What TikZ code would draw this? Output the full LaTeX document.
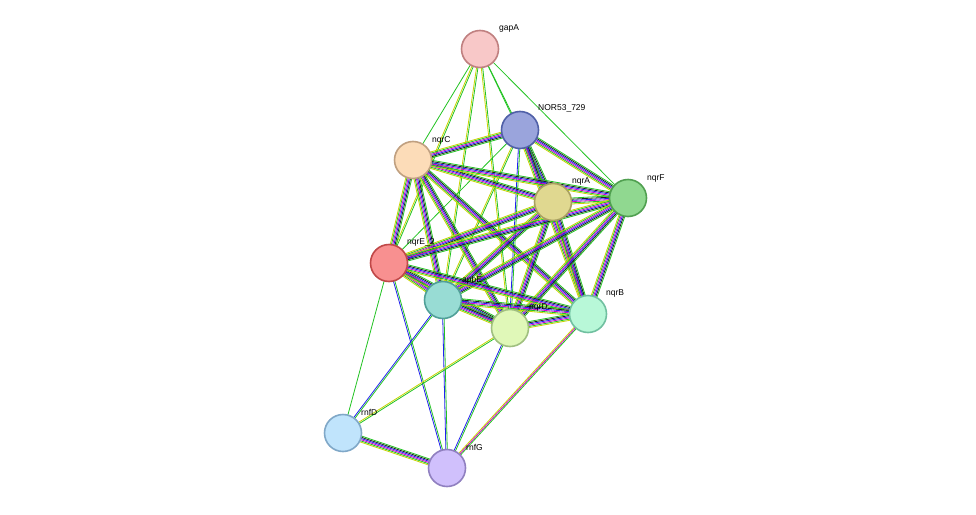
\documentclass[tikz,border=0pt]{standalone}
\usepackage{fontspec}
\setmainfont{Liberation Sans}
\usetikzlibrary{calc}
\definecolor{ty}{HTML}{C8D400}
\definecolor{tg}{HTML}{22C322}
\definecolor{tm}{HTML}{D000D0}
\definecolor{tb}{HTML}{2020F0}
\definecolor{tk}{HTML}{202020}
\definecolor{tc}{HTML}{30B0C0}
\def\FULL{ty/-3,tg/-1.8,tm/-0.6,tb/0.6,tk/1.8,tg/3}
\def\GR{tg/0}
\def\GY{ty/-0.7,tg/0.7}
\def\BL{tb/-0.7,tg/0.7}
\def\MY{ty/-1.2,tm/0,tg/1.2}
\newcommand\edge[3]{\foreach \c/\o in #3{\draw[\c,line width=0.8pt] ($(#1)!\o pt!90:(#2)$) -- ($(#2)!\o pt!-90:(#1)$);}}
\tikzset{prot/.style={circle,minimum size=37pt,inner sep=0pt,line width=1.6pt},
lab/.style={anchor=west,font=\fontsize{8.5}{10}\selectfont,inner sep=0pt}}
\begin{document}
\begin{tikzpicture}[x=1pt,y=-1pt]
\useasboundingbox (0,0) rectangle (976,514);
\fill[white] (0,0) rectangle (976,514);
\coordinate (gapA) at (480,49);
\coordinate (NOR) at (520,130);
\coordinate (nqrC) at (413,160);
\coordinate (nqrA) at (553,202);
\coordinate (nqrF) at (628,198);
\coordinate (nqrE) at (389,263);
\coordinate (apbE) at (443,300);
\coordinate (nqrD) at (510,328);
\coordinate (nqrB) at (588,314);
\coordinate (rnfD) at (343,433);
\coordinate (rnfG) at (447,468);
\edge{gapA}{nqrC}{\GR}
\edge{gapA}{NOR}{\GR}
\edge{gapA}{nqrA}{\GR}
\edge{gapA}{nqrF}{\GR}
\edge{gapA}{nqrE}{\GY}
\edge{gapA}{apbE}{\GY}
\edge{gapA}{nqrD}{\GY}
\edge{NOR}{nqrC}{\FULL}
\edge{NOR}{nqrA}{\FULL}
\edge{NOR}{nqrF}{\FULL}
\edge{NOR}{nqrE}{\GR}
\edge{NOR}{apbE}{\GY}
\edge{NOR}{nqrD}{\BL}
\edge{NOR}{nqrB}{\FULL}
\foreach \b in {nqrA,nqrF,nqrE,apbE,nqrD,nqrB}{\edge{nqrC}{\b}{\FULL}}
\foreach \b in {nqrF,nqrE,apbE,nqrD,nqrB}{\edge{nqrA}{\b}{\FULL}}
\foreach \b in {nqrE,apbE,nqrD,nqrB}{\edge{nqrF}{\b}{\FULL}}
\foreach \b in {apbE,nqrD,nqrB}{\edge{nqrE}{\b}{\FULL}}
\edge{nqrE}{rnfD}{\GR}
\edge{nqrE}{rnfG}{\BL}
\edge{apbE}{nqrD}{\FULL}
\edge{apbE}{nqrB}{\FULL}
\edge{apbE}{rnfD}{\BL}
\edge{apbE}{rnfG}{\BL}
\edge{nqrD}{nqrB}{\FULL}
\edge{nqrD}{rnfD}{\GY}
\edge{nqrD}{rnfG}{\BL}
\edge{nqrB}{rnfG}{\MY}
\edge{rnfD}{rnfG}{\FULL}
\node[prot,fill={rgb,255:red,248;green,200;blue,200},draw={rgb,255:red,192;green,128;blue,128}] (n1) at (gapA) {};
\node[prot,fill={rgb,255:red,154;green,164;blue,220},draw={rgb,255:red,80;green,96;blue,168}] (n2) at (NOR) {};
\node[prot,fill={rgb,255:red,252;green,220;blue,184},draw={rgb,255:red,192;green,160;blue,128}] (n3) at (nqrC) {};
\node[prot,fill={rgb,255:red,224;green,216;blue,144},draw={rgb,255:red,168;green,160;blue,96}] (n4) at (nqrA) {};
\node[prot,fill={rgb,255:red,144;green,216;blue,144},draw={rgb,255:red,80;green,160;blue,80}] (n5) at (nqrF) {};
\node[prot,fill={rgb,255:red,248;green,144;blue,144},draw={rgb,255:red,192;green,72;blue,72}] (n6) at (nqrE) {};
\node[prot,fill={rgb,255:red,152;green,220;blue,212},draw={rgb,255:red,80;green,160;blue,152}] (n7) at (apbE) {};
\node[prot,fill={rgb,255:red,224;green,248;blue,184},draw={rgb,255:red,160;green,192;blue,128}] (n8) at (nqrD) {};
\node[prot,fill={rgb,255:red,184;green,248;blue,216},draw={rgb,255:red,112;green,192;blue,160}] (n9) at (nqrB) {};
\node[prot,fill={rgb,255:red,192;green,228;blue,252},draw={rgb,255:red,128;green,168;blue,200}] (n10) at (rnfD) {};
\node[prot,fill={rgb,255:red,208;green,192;blue,252},draw={rgb,255:red,144;green,128;blue,192}] (n11) at (rnfG) {};
\node[lab] (l1) at (499,28) {gapA};
\node[lab] (l2) at (538,108) {NOR53\_729};
\node[lab] (l3) at (432,140) {nqrC};
\node[lab] (l4) at (572,181) {nqrA};
\node[lab] (l5) at (647,178) {nqrF};
\node[lab] (l6) at (407,242) {nqrE\_2};
\node[lab] (l7) at (462,280) {apbE};
\node[lab] (l8) at (529,307) {nqrD};
\node[lab] (l9) at (606,293) {nqrB};
\node[lab] (l10) at (361,412) {rnfD};
\node[lab] (l11) at (466,447) {rnfG};
\end{tikzpicture}
\end{document}
